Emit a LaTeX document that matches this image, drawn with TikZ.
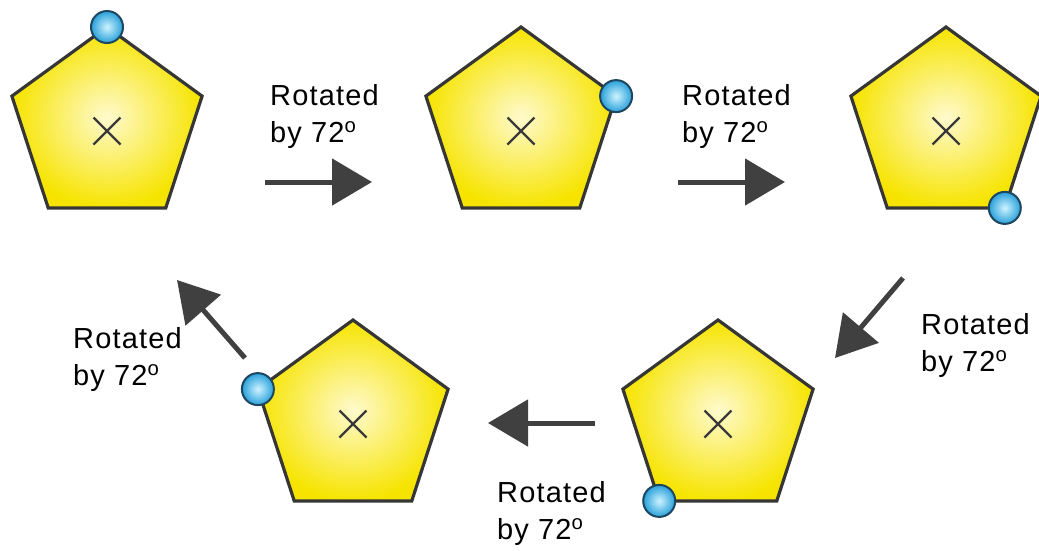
\documentclass[tikz,border=0pt]{standalone}
\usepackage{fontspec}
\setmainfont{Liberation Sans}[LetterSpace=4]
\usetikzlibrary{shapes.geometric,shapes.misc,arrows.meta}
\definecolor{edgecol}{HTML}{363636}
\definecolor{yelin}{RGB}{255,250,205}
\definecolor{yelout}{RGB}{246,228,0}
\definecolor{xcol}{HTML}{3A3A3A}
\definecolor{dotin}{RGB}{205,243,255}
\definecolor{dotout}{RGB}{40,160,218}
\definecolor{dotedge}{RGB}{30,70,95}
\definecolor{arrcol}{HTML}{404040}
\begin{document}
\begin{tikzpicture}[x=1pt,y=-1pt,
  pent/.style={regular polygon, regular polygon sides=5, minimum size=200pt,
    inner sep=0pt, outer sep=0pt, draw=edgecol, line width=3.2pt,
    shade, inner color=yelin, outer color=yelout},
  xmark/.style={cross out, draw=xcol, line width=2.2pt, minimum size=27pt,
    inner sep=0pt, outer sep=0pt},
  dot/.style={circle, minimum size=32pt, inner sep=0pt, draw=dotedge,
    line width=2pt, shade, inner color=dotin, outer color=dotout},
  arr/.style={draw=arrcol, line width=5pt, -{Triangle[length=40pt,width=46pt]}},
  lbl/.style={anchor=base west, inner sep=0pt, align=left,
    font=\fontsize{29}{37}\selectfont, text=black}
]
\useasboundingbox (0,0) rectangle (1039,550);

% pentagons
\node[pent] (p1) at (107,127) {};
\node[pent] (p2) at (521,127) {};
\node[pent] (p3) at (946,127) {};
\node[pent] (p4) at (718,420) {};
\node[pent] (p5) at (353,420) {};

% crosses
\node[xmark] (x1) at (p1) [yshift=-4pt] {};
\node[xmark] (x2) at (p2) [yshift=-4pt] {};
\node[xmark] (x3) at (p3) [yshift=-4pt] {};
\node[xmark] (x4) at (p4) [yshift=-4pt] {};
\node[xmark] (x5) at (p5) [yshift=-4pt] {};

% dots
\node[dot] (d1) at (p1.corner 1) {};
\node[dot] (d2) at (p2.corner 5) {};
\node[dot] (d3) at (p3.corner 4) {};
\node[dot] (d4) at (p4.corner 3) {};
\node[dot] (d5) at (p5.corner 2) {};

% arrows
\coordinate (a1s) at (265,182); \coordinate (a1e) at (372,182);
\coordinate (a2s) at (678,182); \coordinate (a2e) at (785,182);
\coordinate (a3s) at (903,278); \coordinate (a3e) at (835,358);
\coordinate (a4s) at (595,423); \coordinate (a4e) at (488,423);
\coordinate (a5s) at (245,358); \coordinate (a5e) at (177,280);
\draw[arr] (a1s) -- (a1e);
\draw[arr] (a2s) -- (a2e);
\draw[arr] (a3s) -- (a3e);
\draw[arr] (a4s) -- (a4e);
\draw[arr] (a5s) -- (a5e);

% labels (anchor = baseline of the second line)
\node[lbl] (l1) at (270,142) {Rotated\\by 72\textsuperscript{o}};
\node[lbl] (l2) at (682,142) {Rotated\\by 72\textsuperscript{o}};
\node[lbl] (l3) at (921,371) {Rotated\\by 72\textsuperscript{o}};
\node[lbl] (l4) at (497,539) {Rotated\\by 72\textsuperscript{o}};
\node[lbl] (l5) at (73,385) {Rotated\\by 72\textsuperscript{o}};
\end{tikzpicture}
\end{document}
